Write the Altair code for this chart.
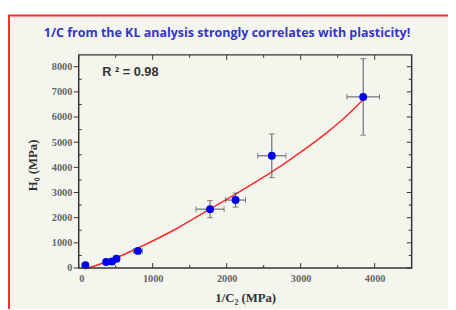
import altair as alt
import pandas as pd

# data points
x_vals = [90, 370, 450, 510, 800, 1775, 2120, 2610, 3845]
y_vals = [110, 240, 260, 370, 680, 2340, 2700, 4460, 6800]
x_err = [30, 30, 30, 40, 60, 190, 135, 190, 220]
y_err = [70, 70, 70, 90, 100, 340, 280, 870, 1520]

# fitted curve
fit_x = [130, 440, 790, 1320, 1760, 2110, 2470, 2640, 2900, 3350, 3610, 3845]
fit_y = [0, 320, 780, 1560, 2320, 2920, 3560, 3880, 4400, 5370, 6020, 6700]

# axis ticks
x_major = [0, 1000, 2000, 3000, 4000]
x_minor = [500, 1500, 2500, 3500]
y_major = [0, 1000, 2000, 3000, 4000, 5000, 6000, 7000, 8000]
y_minor = [500, 1500, 2500, 3500, 4500, 5500, 6500, 7500]

TITLE = "1/C  from the KL analysis strongly correlates with plasticity!"
R2_TEXT = "R ² = 0.98"
X_TITLE = "1/C₂ (MPa)"
Y_TITLE = "H₀ (MPa)"

W, H = 339, 217
XDOM = [0, 4500]
YDOM = [0, 8470]

pts = pd.DataFrame({
    "x": x_vals, "y": y_vals,
    "xlo": [a - b for a, b in zip(x_vals, x_err)],
    "xhi": [a + b for a, b in zip(x_vals, x_err)],
    "ylo": [a - b for a, b in zip(y_vals, y_err)],
    "yhi": [a + b for a, b in zip(y_vals, y_err)],
})
fit = pd.DataFrame({"x": fit_x, "y": fit_y})

xs = alt.Scale(domain=XDOM, nice=False, zero=False)
ys = alt.Scale(domain=YDOM, nice=False, zero=False)

XAX = alt.Axis(values=x_major, format="d", ticks=False, domain=False, grid=False,
               labelOverlap=False,
               labelFont="Liberation Serif", labelFontWeight="bold", labelFontSize=10.5,
               labelColor="#666666", labelPadding=6, zindex=2,
               titleFont="Liberation Serif", titleFontWeight="bold", titleFontSize=13,
               titleColor="#333333", titlePadding=8)
YAX = alt.Axis(values=y_major, format="d", ticks=False, domain=False, grid=False,
               labelOverlap=False,
               labelFont="Liberation Serif", labelFontWeight="bold", labelFontSize=10.5,
               labelColor="#666666", labelPadding=7, zindex=2,
               titleFont="Liberation Serif", titleFontWeight="bold", titleFontSize=13,
               titleColor="#333333", titleX=-40, titleY=112)


def XQ(f):
    return alt.X(f, type="quantitative", scale=xs, axis=XAX, title=X_TITLE)


def YQ(f):
    return alt.Y(f, type="quantitative", scale=ys, axis=YAX, title=Y_TITLE)


base_pts = alt.Chart(pts)
one = pd.DataFrame({"k": [0]})

card = alt.Chart(one).mark_rect(
    fill="#f4f6ee", stroke="#ff2a2a", strokeWidth=2
).encode(x=alt.value(-71), x2=alt.value(420), y=alt.value(-40), y2=alt.value(300))

frame = alt.Chart(one).mark_rect(
    fill="#f4f6ee", fillOpacity=0, stroke="#333333", strokeWidth=1.5
).encode(x=alt.value(0), x2=alt.value(W), y=alt.value(0), y2=alt.value(H))

title = alt.Chart(pd.DataFrame({"t": [TITLE]})).mark_text(
    font="Open Sans", fontSize=12.7, fontWeight="bold", color="#3535cc", align="center", baseline="middle"
).encode(x=alt.value(151), y=alt.value(-22), text="t:N")

# ticks
xt = pd.DataFrame({"x": x_major})
xm = pd.DataFrame({"x": x_minor})
yt = pd.DataFrame({"y": y_major})
ym = pd.DataFrame({"y": y_minor})
tc = "#333333"
ticks = [
    alt.Chart(xt).mark_rule(color=tc).encode(x=XQ("x"), y=alt.value(H), y2=alt.value(H - 5)),
    alt.Chart(xm).mark_rule(color=tc).encode(x=XQ("x"), y=alt.value(H), y2=alt.value(H - 3)),
    alt.Chart(xt).mark_rule(color=tc).encode(x=XQ("x"), y=alt.value(0), y2=alt.value(5)),
    alt.Chart(xm).mark_rule(color=tc).encode(x=XQ("x"), y=alt.value(0), y2=alt.value(3)),
    alt.Chart(yt).mark_rule(color=tc).encode(y=YQ("y"), x=alt.value(0), x2=alt.value(-5)),
    alt.Chart(ym).mark_rule(color=tc).encode(y=YQ("y"), x=alt.value(0), x2=alt.value(3)),
    alt.Chart(yt).mark_rule(color=tc).encode(y=YQ("y"), x=alt.value(W), x2=alt.value(W - 5)),
    alt.Chart(ym).mark_rule(color=tc).encode(y=YQ("y"), x=alt.value(W), x2=alt.value(W - 3)),
]

ec = "#555555"
xerr = base_pts.mark_rule(color=ec, strokeWidth=1).encode(x=XQ("xlo"), x2="xhi:Q", y=YQ("y"))
yerr = base_pts.mark_rule(color=ec, strokeWidth=1).encode(y=YQ("ylo"), y2="yhi:Q", x=XQ("x"))
capx1 = base_pts.mark_tick(color=ec, orient="vertical", size=6, thickness=1).encode(x=XQ("xlo"), y=YQ("y"))
capx2 = base_pts.mark_tick(color=ec, orient="vertical", size=6, thickness=1).encode(x=XQ("xhi"), y=YQ("y"))
capy1 = base_pts.mark_tick(color=ec, orient="horizontal", size=6, thickness=1).encode(x=XQ("x"), y=YQ("ylo"))
capy2 = base_pts.mark_tick(color=ec, orient="horizontal", size=6, thickness=1).encode(x=XQ("x"), y=YQ("yhi"))

line = alt.Chart(fit).mark_line(color="#ff2a2a", strokeWidth=1.5, interpolate="monotone").encode(
    x=XQ("x"), y=YQ("y"))

dots = base_pts.mark_point(filled=True, shape="circle", size=65, color="#0000f0", opacity=1).encode(
    x=XQ("x"), y=YQ("y"))

r2 = alt.Chart(pd.DataFrame({"x": [317], "y": [7790], "t": [R2_TEXT]})).mark_text(
    align="left", baseline="middle", font="Liberation Sans", fontSize=13, fontWeight="bold",
    color="#333333").encode(x=XQ("x"), y=YQ("y"), text="t:N")

chart = alt.layer(card, line, title, *ticks, xerr, yerr, capx1, capx2, capy1, capy2, dots, r2, frame).properties(
    width=W, height=H,
    autosize=alt.AutoSizeParams(type="none"),
    padding={"left": 72, "top": 45, "right": 37, "bottom": 39},
).configure(background="white").configure_view(stroke=None)

chart.save("out.html", embed_options={"renderer": "svg", "actions": False})
